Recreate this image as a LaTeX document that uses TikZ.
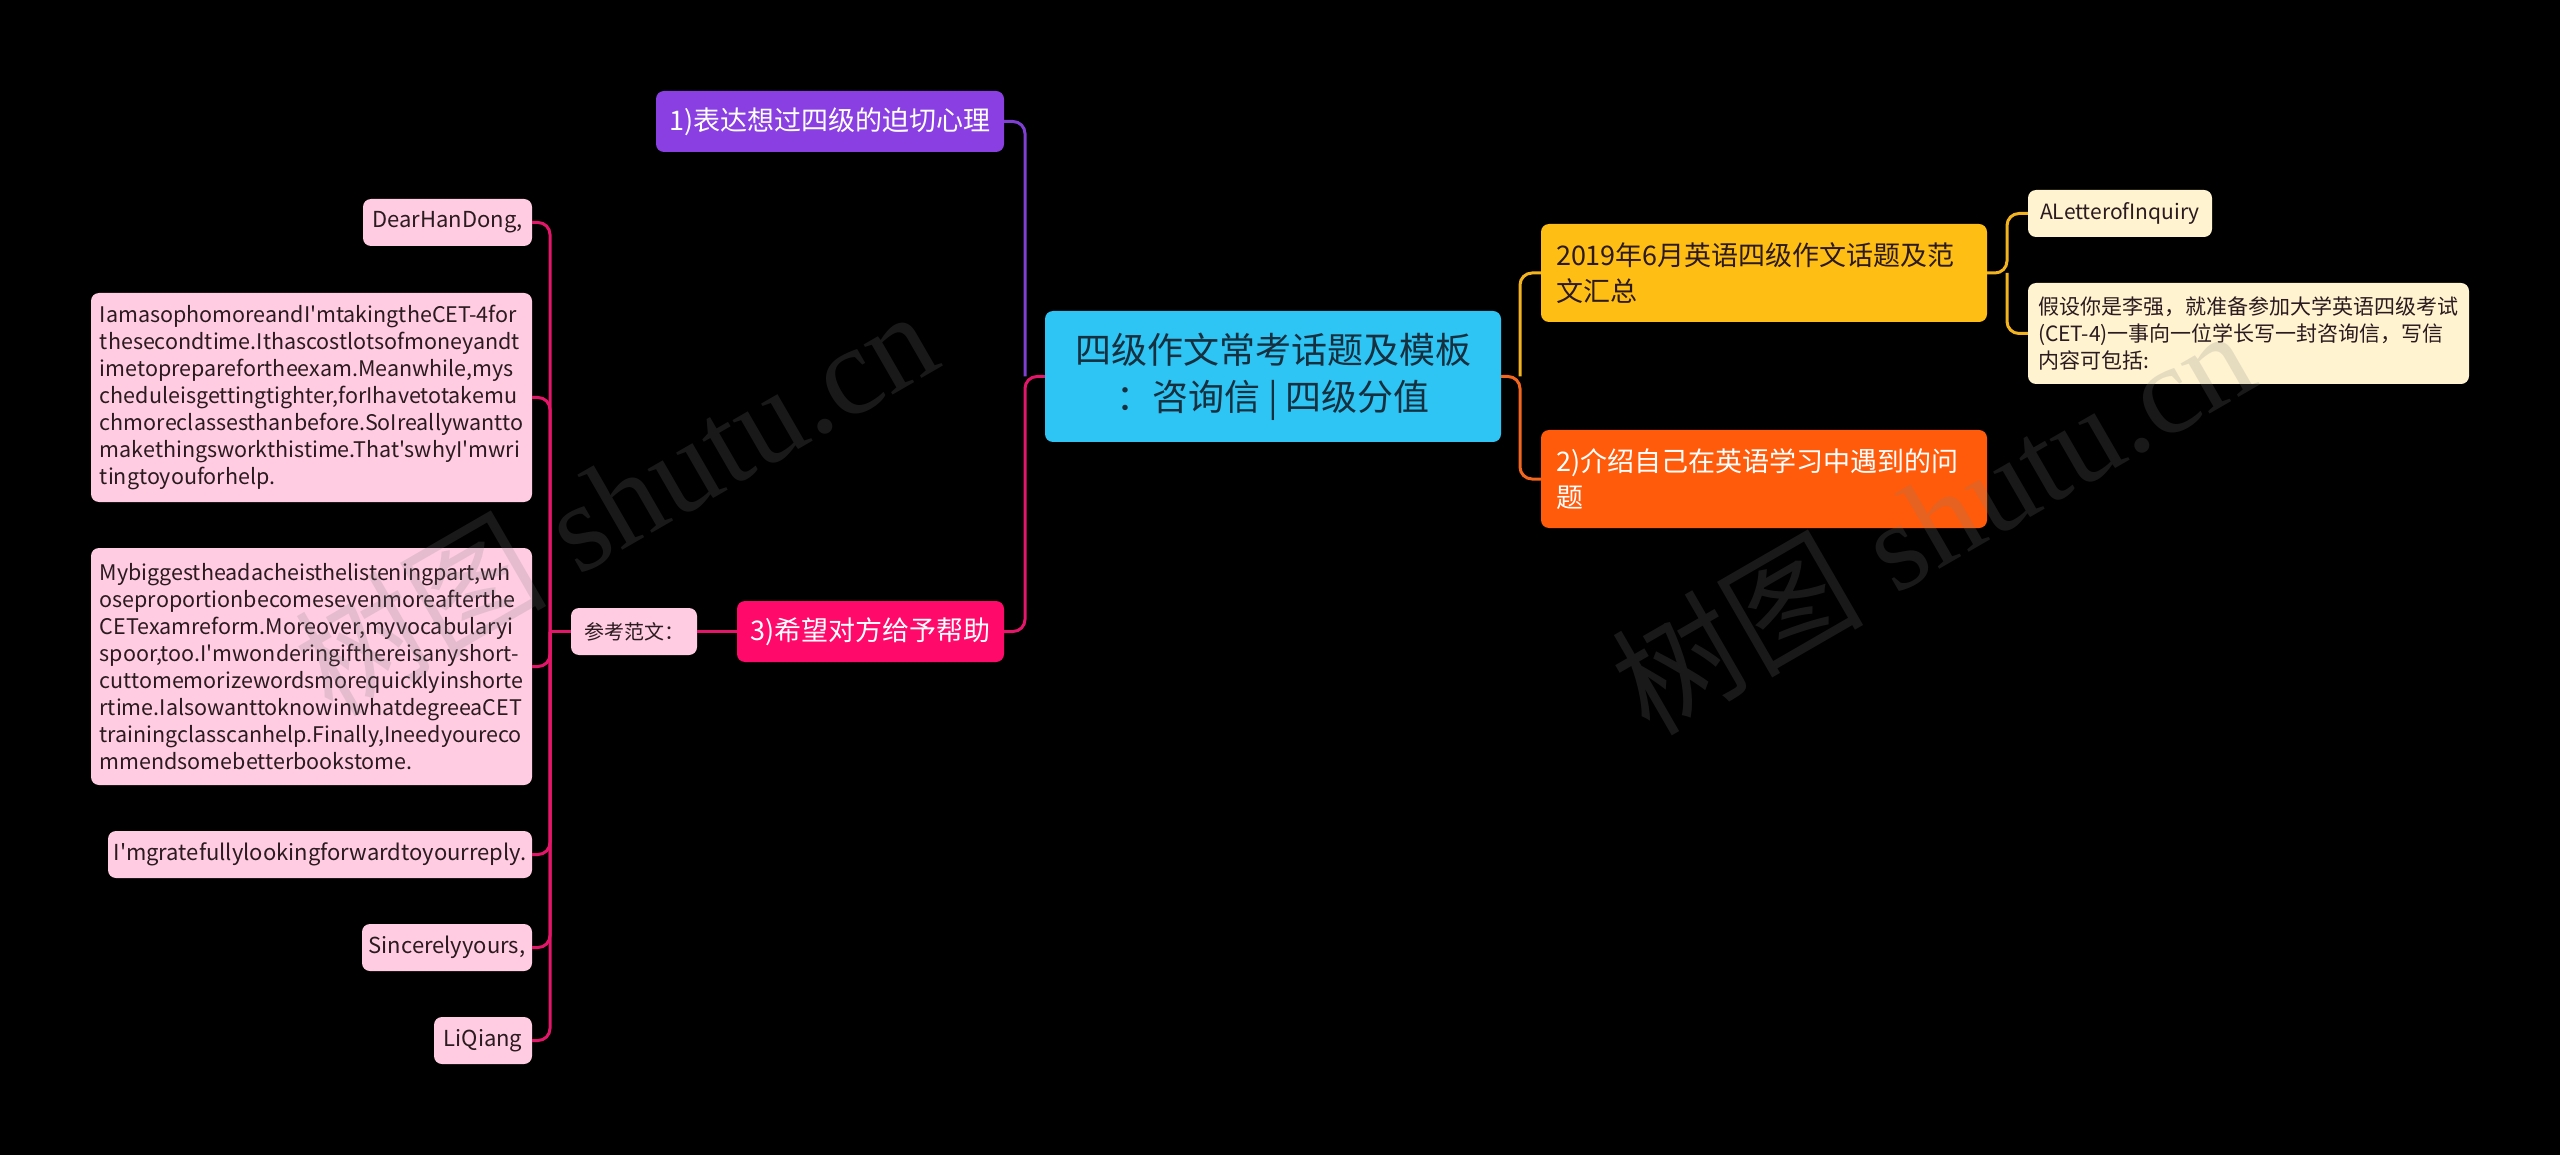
\documentclass[tikz,border=0pt]{standalone}
\usepackage{fontspec}
\setmainfont{Noto Sans CJK SC}[Ligatures=TeXOff]
\newfontfamily\wmfont{Liberation Serif}
\newfontfamily\wmcjk{Noto Sans CJK SC}
\definecolor{cBlue}{HTML}{2EC4F4}
\definecolor{cBlueTxt}{HTML}{16303F}
\definecolor{cPurple}{HTML}{8A3FE2}
\definecolor{cPurpleLine}{HTML}{7E3FD2}
\definecolor{cPink}{HTML}{FF0A6B}
\definecolor{cPinkLine}{HTML}{E3166A}
\definecolor{cLeafP}{HTML}{FFCCE1}
\definecolor{cYellow}{HTML}{FFBE14}
\definecolor{cYellowLine}{HTML}{F2B31E}
\definecolor{cOrange}{HTML}{FF5B0A}
\definecolor{cOrangeLine}{HTML}{F2661E}
\definecolor{cCream}{HTML}{FFF3D0}
\definecolor{cDark}{HTML}{2B1A1F}
\begin{document}
\begin{tikzpicture}[x=1pt,y=-1pt,
  box/.style={rounded corners=8pt, inner sep=0pt, align=center},
  rootbox/.style={box, fill=cBlue, text=cBlueTxt, font=\fontsize{36}{47}\selectfont},
  mainbox/.style={box, text=white, font=\fontsize{27}{36}\selectfont},
  leafP/.style={box, fill=cLeafP, text=cDark, font=\fontsize{22}{27}\selectfont},
  paraP/.style={box, fill=cLeafP, text=cDark, font=\fontsize{21.5}{27}\selectfont, align=left},
  leafC/.style={box, fill=cCream, text=cDark, font=\fontsize{21}{27}\selectfont},
  conn/.style={line width=3pt, rounded corners=12pt},
  wm/.style={text=white!50!black, opacity=0.2, font=\wmfont\fontsize{126}{126}\selectfont, rotate=30}
]
\fill[black] (0,0) rectangle (2560,1155);
\useasboundingbox (0,0) rectangle (2560,1155);

% nodes
\node[rootbox, minimum width=456pt, minimum height=131pt] (root) at (1273,376.5)
  {四级作文常考话题及模板\\：咨询信 | 四级分值};

\node[mainbox, fill=cYellow, text=cDark, minimum width=446pt, minimum height=98pt, text width=416pt, align=left] (yel) at (1764,273)
  {2019年6月英语四级作文话题及范\\文汇总};
\node[mainbox, fill=cOrange, minimum width=446pt, minimum height=98pt, text width=416pt, align=left] (ora) at (1764,479)
  {2)介绍自己在英语学习中遇到的问\\题};
\node[leafC, minimum width=184pt, minimum height=47pt] (letter) at (2120,213.5) {ALetterofInquiry};
\node[leafC, minimum width=441pt, minimum height=101pt, text width=421pt, align=left] (assume) at (2248.5,333.5)
  {假设你是李强，就准备参加大学英语四级考试\\(CET-4)一事向一位学长写一封咨询信，写信\\内容可包括:};

\node[mainbox, fill=cPurple, minimum width=348pt, minimum height=61pt] (pur) at (830,121.5) {1)表达想过四级的迫切心理};
\node[mainbox, fill=cPink, minimum width=267pt, minimum height=61pt] (hlp) at (870.5,631.5) {3)希望对方给予帮助};
\node[leafP, font=\fontsize{20}{24}\selectfont, minimum width=126pt, minimum height=47pt] (ref) at (634,631.5) {参考范文：};

\node[leafP, minimum width=169pt, minimum height=47pt] (dear) at (447.5,222.5) {DearHanDong,};
\node[paraP, minimum width=441pt, minimum height=209pt] (pa) at (311.5,397.5)
  {IamasophomoreandI'mtakingtheCET-4for\\
   thesecondtime.Ithascostlotsofmoneyandt\\
   imetopreparefortheexam.Meanwhile,mys\\
   cheduleisgettingtighter,forIhavetotakemu\\
   chmoreclassesthanbefore.SoIreallywantto\\
   makethingsworkthistime.That'swhyI'mwri\\
   tingtoyouforhelp.};
\node[paraP, minimum width=441pt, minimum height=237pt] (pb) at (311.5,666.5)
  {Mybiggestheadacheisthelisteningpart,wh\\
   oseproportionbecomesevenmoreafterthe\\
   CETexamreform.Moreover,myvocabularyi\\
   spoor,too.I'mwonderingifthereisanyshort-\\
   cuttomemorizewordsmorequicklyinshorte\\
   rtime.IalsowanttoknowinwhatdegreeaCET\\
   trainingclasscanhelp.Finally,Ineedyoureco\\
   mmendsomebetterbookstome.};
\node[leafP, minimum width=424pt, minimum height=47pt] (grat) at (320,854.5) {I'mgratefullylookingforwardtoyourreply.};
\node[leafP, minimum width=170pt, minimum height=47pt] (sinc) at (447,947.5) {Sincerelyyours,};
\node[leafP, minimum width=98pt, minimum height=47pt] (li) at (483,1040.5) {LiQiang};

% junctions
\coordinate (jL) at (1025,376.5);
\coordinate (jR) at (1520,376.5);
\coordinate (jY) at (2007,273);
\coordinate (jP) at (550,631.5);

% connectors
\draw[conn, cPurpleLine] (jL) |- (pur.east);
\draw[conn, cPinkLine] (root.west) -- (jL) |- (hlp.east);
\draw[conn, cYellowLine] (jR) |- (yel.west);
\draw[conn, cOrangeLine] (root.east) -- (jR) |- (ora.west);
\draw[conn, cYellowLine] (yel.east) -- (jY) |- (letter.west);
\draw[conn, cYellowLine] (jY) |- (assume.west);
\draw[conn, cPinkLine] (hlp.west) -- (ref.east);
\draw[conn, cPinkLine] (ref.west) -- (jP);
\draw[conn, cPinkLine] (jP) |- (dear.east);
\draw[conn, cPinkLine] (jP) |- (pa.east);
\draw[conn, cPinkLine] (jP) |- (pb.east);
\draw[conn, cPinkLine] (jP) |- (grat.east);
\draw[conn, cPinkLine] (jP) |- (sinc.east);
\draw[conn, cPinkLine] (jP) |- (li.east);

% watermarks
\node[wm] (wmL) at (615,500) {{\wmcjk 树图} shutu.cn};
\node[wm] (wmR) at (1932,519) {{\wmcjk 树图} shutu.cn};
\end{tikzpicture}
\end{document}
